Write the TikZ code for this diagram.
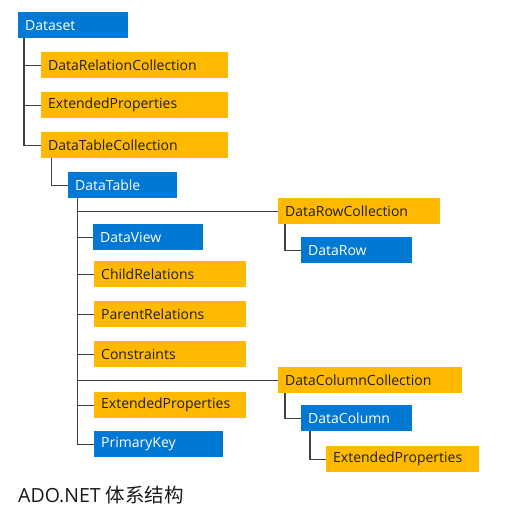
\documentclass[tikz,border=0pt]{standalone}
\usepackage{fontspec}
\setmainfont{Open Sans}
\newfontfamily\cjkfont{Noto Sans CJK SC}
\definecolor{msblue}{HTML}{0078D4}
\definecolor{msgold}{HTML}{FFB900}
\definecolor{linegray}{HTML}{404040}
\begin{document}
\begin{tikzpicture}[x=1pt,y=-1pt,
    box/.style={anchor=north west, minimum height=26pt, inner xsep=7pt, inner ysep=0pt,
      align=left, font=\fontsize{14}{16}\selectfont},
    bluebox/.style={box, fill=msblue, text=white},
    goldbox/.style={box, fill=msgold, text=black!88},
    link/.style={draw=linegray, line width=1.3pt}]
    \useasboundingbox (0,0) rectangle (520,510);

    % Dataset and its collections
    \node[bluebox, text width=96pt] (ds) at (18,12) {Dataset};
    \node[goldbox, text width=173pt] (relcol) at (41,52) {DataRelationCollection};
    \node[goldbox, text width=173pt] (dsprops) at (41,92) {ExtendedProperties};
    \node[goldbox, text width=173pt] (tablecol) at (41,132) {DataTableCollection};

    % DataTable
    \node[bluebox, text width=95pt] (table) at (68,172) {DataTable};
    \node[bluebox, text width=96pt] (view) at (93,224) {DataView};
    \node[goldbox, text width=138pt] (childrel) at (94,261) {ChildRelations};
    \node[goldbox, text width=138pt] (parentrel) at (94,301) {ParentRelations};
    \node[goldbox, text width=138pt] (constr) at (94,341) {Constraints};
    \node[goldbox, text width=138pt] (tableprops) at (94,392) {ExtendedProperties};
    \node[bluebox, text width=115pt] (pkey) at (94,431) {PrimaryKey};

    % Rows and columns
    \node[goldbox, text width=148pt] (rowcol) at (278,198) {DataRowCollection};
    \node[bluebox, text width=97pt] (row) at (301,237) {DataRow};
    \node[goldbox, text width=170pt] (colcol) at (278,367) {DataColumnCollection};
    \node[bluebox, text width=97pt] (column) at (301,405) {DataColumn};
    \node[goldbox, text width=139pt] (colprops) at (326,446) {ExtendedProperties};

    % Caption
    \node[anchor=base west, inner sep=0pt, text=black!90, font=\fontsize{19.5}{22}\selectfont] (caption) at (18,503)
      {ADO.NET {\cjkfont 体系结构}};

    % Tree lines
    \foreach \n in {relcol,dsprops,tablecol}
      \draw[link] ([xshift=6]ds.south west) |- (\n.west);
    \draw[link] ([xshift=10.5]tablecol.south west) |- (table.west);
    \foreach \n in {rowcol,view,childrel,parentrel,constr,colcol,tableprops,pkey}
      \draw[link] ([xshift=9.5]table.south west) |- (\n.west);
    \draw[link] ([xshift=7]rowcol.south west) |- (row.west);
    \draw[link] ([xshift=7]colcol.south west) |- (column.west);
    \draw[link] ([xshift=9]column.south west) |- (colprops.west);
\end{tikzpicture}
\end{document}
